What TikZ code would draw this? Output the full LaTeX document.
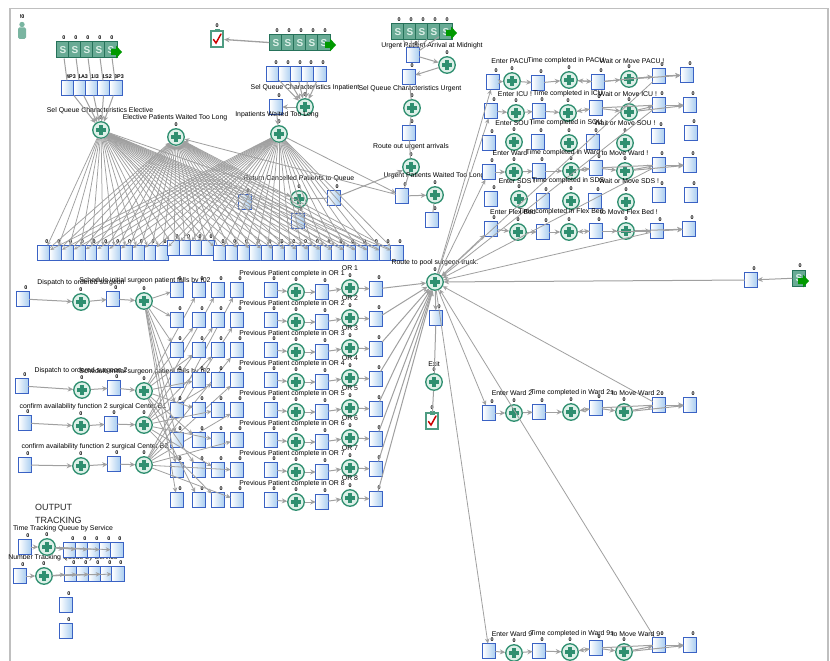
\documentclass[tikz,border=0pt]{standalone}
\usepackage{fontspec}
\setmainfont{Liberation Sans}
\usetikzlibrary{arrows.meta,calc}
\definecolor{acgreen}{HTML}{2F8F70}
\definecolor{acpale}{HTML}{DDF0E8}
\definecolor{qblue}{HTML}{3A62C4}
\definecolor{qfill}{HTML}{A9CDF0}
\definecolor{lineg}{HTML}{A0A0A0}
\definecolor{shgreen}{HTML}{4E9C82}
\newcounter{lblc}
\tikzset{
  qbox/.style={draw=qblue,line width=.8pt,left color=white,right color=qfill,minimum width=12.5pt,minimum height=15pt,inner sep=0pt,outer sep=0pt},
  acbox/.style={circle,draw=acgreen,line width=1.3pt,fill=acpale,minimum size=16.5pt,inner sep=0pt,outer sep=.5pt},
  srcbox/.style={draw=acgreen!80!black,line width=1pt,fill=shgreen!85!white,minimum width=12.5pt,minimum height=16pt,inner sep=0pt,text=acpale,font=\fontsize{10}{10}\selectfont\bfseries},
  sinkbox/.style={draw=shgreen,line width=2pt,fill=white,minimum width=12pt,minimum height=16pt,inner sep=0pt},
  zero/.style={font=\fontsize{5.4}{6}\selectfont\bfseries,inner sep=0pt,text=black},
  lbl/.style={font=\fontsize{6.9}{8}\selectfont,inner sep=0pt,text=black},
  conn/.style={draw=lineg,line width=1pt,-{Stealth[length=5.5pt,width=5pt]}},
  thinconn/.style={draw=lineg,line width=.8pt,-{Stealth[length=5pt,width=4.5pt]}},
  fan/.style={draw=lineg,line width=.75pt,-{Stealth[length=4pt,width=3.5pt]}},
  plain/.style={draw=lineg,line width=1pt}
}
\newcommand{\Qu}[4][0]{\node[qbox] (#2) at (#3,{#4}) {};
  \node[zero] (#2z) at ($(#2)+(3,-11)$) {#1};}
\newcommand{\Ac}[3]{\node[acbox] (#1) at (#2,{#3}) {};
  \fill[acgreen] ($(#1)+(-1.9,-5.4)$) rectangle ($(#1)+(1.9,5.4)$);
  \fill[acgreen] ($(#1)+(-5.4,-1.9)$) rectangle ($(#1)+(5.4,1.9)$);
  \node[zero] (#1z) at ($(#1)+(0,-12)$) {0};}
\newcommand{\Sr}[3]{\node[srcbox] (#1) at (#2,{#3}) {S};
  \node[zero] (#1z) at ($(#1)+(1,-12)$) {0};}
\newcommand{\Tip}[2]{\fill[green!60!black] (#1-11,#2-3) -- (#1-6,#2-3) -- (#1-6,#2-6.5) -- (#1,#2) -- (#1-6,#2+6.5) -- (#1-6,#2+3) -- (#1-11,#2+3) -- cycle;}
\newcommand{\Sk}[3]{\node[sinkbox] (#1) at (#2,{#3}) {};
  \fill[shgreen] (#2-2.5,#3-10) rectangle (#2+2.5,#3-6.5);
  \draw[red!80!black,line width=1.5pt,line cap=round] (#2-3.5,#3+.5) -- (#2-1,#3+4) -- (#2+4,#3-5);
  \node[zero] (#1z) at ($(#1)+(0,-13)$) {0};}
\newcommand{\Tx}[3]{\stepcounter{lblc}\node[lbl] (t\arabic{lblc}) at (#1,{#2}) {#3};}
\begin{document}
\begin{tikzpicture}[x=1pt,y=-1pt]
\useasboundingbox (0,0) rectangle (830,661);
\fill[white] (0,0) rectangle (830,661);
\coordinate (fa) at (10,661); \coordinate (fb) at (10,8.5); \coordinate (fc) at (828,8.5); \coordinate (fd) at (828,661);
\draw[black!25,line width=1.6pt] (fa) -- (fb) -- (fc) -- (fd);

% person
\fill[shgreen!75!white] (22,24.5) circle (2.7);
\fill[shgreen!75!white,rounded corners=1.5pt] (18,27.5) rectangle (26,39);
\node[zero] (pz) at (22,17) {!0};

% elective
\foreach \i/\x in {1/63,2/75,3/87,4/99,5/111} {\Sr{ea\i}{\x}{50}}
\Tip{122}{52}
\foreach \i/\x/\t in {1/68/4P3,2/80/1A3,3/92/1I3,4/104/1S2,5/116/3P3} {\Qu[\t]{eq\i}{\x}{88}}
\Ac{selE}{101}{130}
\Ac{actW}{176}{137}
\Tx{100}{111}{Sel Queue Characteristics Elective}
\Tx{175}{118}{Elective Patients Waited Too Long}
\foreach \i in {1,...,5} {\draw[plain] (ea\i) -- (eq\i); \draw[conn] (eq\i) -- (selE);}

% inpatient
\foreach \i/\x in {1/276,2/288,3/300,4/312,5/324} {\Sr{ia\i}{\x}{43}}
\Tip{336}{45}
\Sk{sinkA}{217}{39}
\draw[conn,line width=1.3pt] (ia1) -- (sinkA);
\foreach \i/\x in {1/273,2/285,3/297,4/308,5/320} {\Qu{iq\i}{\x}{74}}
\Ac{selI}{305}{107}
\Qu{iq6}{276}{107}
\Ac{actI}{279}{134}
\Tx{305}{88}{Sel Queue Characteristics Inpatient}
\Tx{277}{115}{Inpatients Waited Too Long}
\foreach \i in {1,...,5} {\draw[conn] (iq\i) -- (selI);}
\draw[conn] (selI) -- (iq6);
\draw[conn] (iq6) -- (actI);

% urgent
\foreach \i/\x in {1/398,2/410,3/422,4/434,5/446} {\Sr{ua\i}{\x}{32}}
\Tip{457}{33}
\Qu{uq1}{413}{55}
\Ac{ua}{447}{65}
\Qu{uq2}{409}{77}
\Ac{ub}{412}{108}
\Qu{uq3}{409}{133}
\Ac{uc}{411}{167}
\Qu{uq4}{402}{196}
\Ac{ud}{435}{195}
\Qu{uq5}{432}{220}
\Tx{432}{46}{Urgent Patient Arrival at Midnight}
\Tx{410}{89}{Sel Queue Characteristics Urgent}
\Tx{411}{147}{Route out urgent arrivals}
\Tx{434}{176}{Urgent Patients Waited Too Long}
\foreach \i in {1,...,5} {\draw[plain] (ua\i) -- (uq1);}
\draw[conn] (uq1) -- (ua);
\draw[conn] (ua) -- (uq2);
\draw[plain] (uq2) -- (ub);
\draw[plain] (ub) -- (uq3);
\draw[plain] (uq3) -- (uc);
\draw[plain] (uc) -- (uq4);
\draw[conn] (uq4) -- (ud);
\draw[plain] (ud) -- (uq5);

% return cancelled
\Ac{ret}{299}{199}
\Qu{rq1}{334}{198}
\Qu{rq2}{245}{202}
\Qu{rq3}{298}{221}
\Tx{299}{179}{Return Cancelled Patients to Queue}
\draw[plain] (ret) -- (rq1);
\draw[conn] (rq1) -- (uc);
\draw[plain] (ret) -- (rq3);

% bottom row
\foreach \i in {1,...,11} {\Qu{b\i}{{44+11.8*(\i-1)}}{253}}
\foreach \i/\x in {12/174,13/185.5,14/197,15/208} {\Qu{b\i}{\x}{248}}
\foreach \i in {16,...,31} {\Qu{b\i}{{220+11.8*(\i-16)}}{253}}
\foreach \i in {1,...,31} {
  \draw[fan] (selE) -- (b\i);
  \draw[fan] (actI) -- (b\i);
  \draw[fan] (b\i) -- (actW);
}
\draw[thinconn] (actI) -- (uq4);
\draw[thinconn] (uq4) -- (actW);
\draw[thinconn] (selE) -- (ret);

% left dispatch rows
\foreach \r/\ax/\ay/\bx/\by/\cx/\cy/\dx/\dy in {1/23/299/81/302/113/299/144/301,2/22/386/82/390/114/388/144/391,3/25/423/81/426/111/424/144/425,4/25/465/81/466/114/464/144/465} {
  \Qu{dqa\r}{\ax}{\ay}
  \Ac{dab\r}{\bx}{\by}
  \Qu{dqc\r}{\cx}{\cy}
  \Ac{dad\r}{\dx}{\dy}
  \draw[conn] (dqa\r) -- (dab\r);
  \draw[conn] (dab\r) -- (dqc\r);
  \draw[conn] (dqc\r) -- (dad\r);
}
\Tx{81}{283}{Dispatch to ordered surgeon}
\Tx{145}{281}{Schedule initial surgeon patient falls by r02}
\Tx{81}{371}{Dispatch to ordered surgeon 2}
\Tx{145}{372}{Schedule initial surgeon patient falls by r02}
\Tx{93}{407}{confirm availability function 2 surgical Center B1}
\Tx{95}{447}{confirm availability function 2 surgical Center B2}

% OR grid
\foreach \i in {1,...,8} {
  \Qu{ga\i}{177}{290+30*(\i-1)}
  \Qu{gb\i}{199}{290+30*(\i-1)}
  \Qu{gc\i}{218}{290+30*(\i-1)}
  \Qu{gd\i}{237}{290+30*(\i-1)}
  \draw[thinconn] (dad1) -- (ga\i);
  \draw[thinconn] (dad2) -- (gb\i);
  \draw[thinconn] (dad3) -- (gc\i);
  \draw[thinconn] (dad4) -- (gd\i);
  \Qu{oa\i}{271}{290+30*(\i-1)}
  \Ac{ob\i}{296}{292+30*(\i-1)}
  \Qu{oc\i}{322}{292+30*(\i-1)}
  \Ac{od\i}{350}{288+30*(\i-1)}
  \Qu{oe\i}{376}{289+30*(\i-1)}
  \Tx{292}{274+30*(\i-1)}{Previous Patient complete in OR \i}
  \Tx{350}{268+30*(\i-1)}{OR \i}
  \draw[conn] (oa\i) -- (ob\i);
  \draw[conn] (ob\i) -- (oc\i);
  \draw[conn] (oc\i) -- (od\i);
  \draw[conn] (od\i) -- (oe\i);
}

% hub
\Ac{hub}{435}{282}
\Tx{435}{263}{Route to pool surgeon truck.}
\Qu{hq}{436}{318}
\Ac{ex}{434}{382}
\Tx{434}{364}{Exit}
\Sk{sinkB}{432}{421}
\draw[conn] (hub) -- (hq);
\draw[plain] (hq) -- (ex);
\draw[plain] (ex) -- (sinkB);
\foreach \i in {1,...,8} {\draw[conn] (oe\i) -- (hub);}
\Sr{ra}{799}{278}
\Tip{809}{281}
\Qu{rq}{751}{280}
\draw[conn] (ra) -- (rq);
\draw[conn] (rq) -- (hub);

% unit rows
\foreach \r/\ax/\ay/\bx/\by/\cx/\cy/\dx/\dy/\ex/\ey/\fx/\fy/\gx/\gy/\hx/\hy in {
 pacu/493/82/512/81/538/83/569/80/598/82/629/79/659/76/687/75,
 icu/491/111/516/113/539/111/568/113/596/108/629/112/659/105/690/105,
 sou/489/143/514/142/538/142/569/143/593/142/625/143/658/136/691/133,
 ward/489/172/514/172/539/171/571/171/596/168/625/171/659/165/690/165,
 sds/491/199/519/199/543/201/571/201/595/201/626/202/659/195/691/195,
 flex/491/229/518/232/543/232/569/232/596/231/626/231/657/231/689/229,
 wtwo/489/413/514/413/539/412/571/412/596/408/624/412/659/405/690/405,
 wnin/489/651/514/653/539/651/570/652/596/648/624/652/659/645/690/645} {
  \Qu{\r qa}{\ax}{\ay}
  \Ac{\r ab}{\bx}{\by}
  \Qu{\r qc}{\cx}{\cy}
  \Ac{\r ad}{\dx}{\dy}
  \Qu{\r qe}{\ex}{\ey}
  \Ac{\r af}{\fx}{\fy}
  \Qu{\r qg}{\gx}{\gy}
  \Qu{\r qh}{\hx}{\hy}
}
\foreach \r in {pacu,icu,ward,flex,wtwo,wnin} {
  \draw[conn] (\r qa) -- (\r ab);
  \draw[conn] (\r ab) -- (\r qc);
  \draw[conn] (\r qc) -- (\r ad);
  \draw[conn] (\r ad) -- (\r qe);
  \draw[conn] (\r qe) -- (\r ad);
  \draw[conn] (\r qe) -- (\r af);
  \draw[plain] (\r qe) -- (\r qg);
  \draw[conn] (\r af) -- (\r qg);
  \draw[conn] (\r af) -- (\r qh);
  \draw[conn] (\r qg) -- (\r qh);
  \draw[thinconn] (hub) -- (\r qa);
  \draw[thinconn] (\r qg) -- (hub);
}
\foreach \a/\b/\c/\d/\e/\f/\y in {
  Enter PACU/510/Time completed in PACU/566/Wait or Move PACU !/632/61,
  Enter ICU !/515/Time completed in ICU/568/Wait or Move ICU !/628/94,
  Enter SOU !/514/Time completed in SOU/566/Wait or Move SOU !/625/123,
  Enter Ward/510/Time completed in Ward/563/to Move Ward !/625/153,
  Enter SDS !/517/Time completed in SDS/568/Wait or Move SDS !/629/181,
  Enter Flex Bed/513/Time completed in Flex Bed/561/to Move Flex Bed !/629/212,
  Enter Ward 2/512/Time completed in Ward 2s/572/to Move Ward 2/636/393,
  Enter Ward 9/512/Time completed in Ward 9s/572/to Move Ward 9/636/634} {
  \Tx{\b}{\y}{\a}
  \Tx{\d}{\y}{\c}
  \Tx{\f}{\y}{\e}
}

% output tracking
\node[font=\fontsize{9}{11}\selectfont,inner sep=0pt,anchor=west,text=black!85] (otA) at (35,507) {OUTPUT};
\node[font=\fontsize{9}{11}\selectfont,inner sep=0pt,anchor=west,text=black!85] (otB) at (35,520) {TRACKING};
\Tx{63}{529}{Time Tracking Queue by Service}
\Tx{63}{558}{Number Tracking Queue by Service}
\Qu{ta}{25}{547}
\Ac{tb}{47}{547}
\Qu{na}{20}{576}
\Ac{nb}{44}{576}
\foreach \i/\x in {1/70,2/82,3/94,4/106,5/117} {\Qu{tq\i}{\x}{550} \draw[thinconn] (tb) -- (tq\i);}
\foreach \i/\x in {1/71,2/83,3/95,4/107,5/118} {\Qu{nq\i}{\x}{574} \draw[thinconn] (nb) -- (nq\i);}
\draw[conn] (ta) -- (tb);
\draw[conn] (na) -- (nb);
\Qu{xa}{66}{605}
\Qu{xb}{66}{631}
\end{tikzpicture}
\end{document}
